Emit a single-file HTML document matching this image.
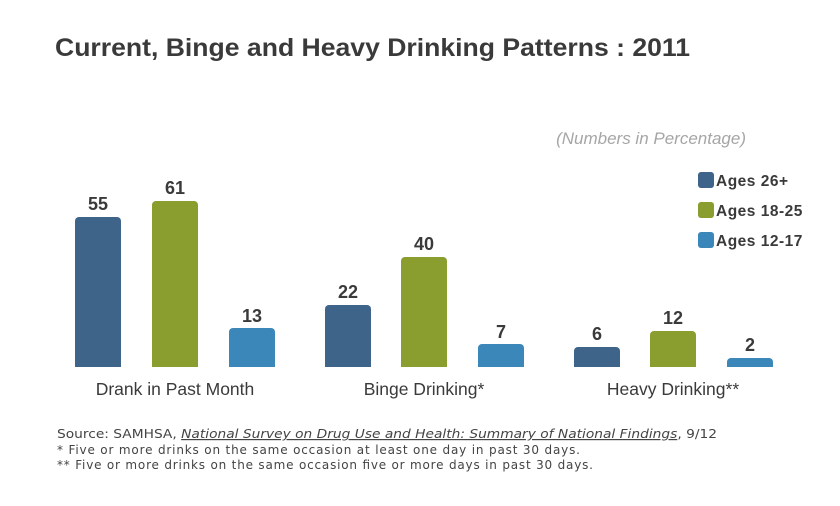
<!DOCTYPE html>
<html><head><meta charset="utf-8"><style>
body{margin:0;background:#fff}
svg{display:block}
</style></head><body>
<svg width="840" height="506" xmlns="http://www.w3.org/2000/svg" font-family="Liberation Sans, sans-serif">
<rect width="840" height="506" fill="#fff"/>
<text x="55" y="56" font-size="25" font-weight="bold" fill="#3a3a3a" textLength="635" lengthAdjust="spacingAndGlyphs">Current, Binge and Heavy Drinking Patterns : 2011</text>
<text x="746" y="144" font-size="17" font-style="italic" fill="#a6a6a6" text-anchor="end">(Numbers in Percentage)</text>
<g>
<rect x="698" y="172" width="16" height="16" rx="3" fill="#3e6589"/>
<rect x="698" y="202" width="16" height="16" rx="3" fill="#8a9d2f"/>
<rect x="698" y="232" width="16" height="16" rx="3" fill="#3b87b9"/>
<g font-size="15.5" font-weight="bold" fill="#3a3a3a" letter-spacing="0.5">
<text x="716" y="186">Ages 26+</text>
<text x="716" y="216">Ages 18-25</text>
<text x="716" y="246">Ages 12-17</text>
</g>
</g>
<g>
<path d="M75 367V221a4 4 0 0 1 4-4h38a4 4 0 0 1 4 4V367Z" fill="#3e6589"/>
<path d="M152 367V205a4 4 0 0 1 4-4h38a4 4 0 0 1 4 4V367Z" fill="#8a9d2f"/>
<path d="M229 367V332a4 4 0 0 1 4-4h38a4 4 0 0 1 4 4V367Z" fill="#3b87b9"/>
<path d="M325 367V309a4 4 0 0 1 4-4h38a4 4 0 0 1 4 4V367Z" fill="#3e6589"/>
<path d="M401 367V261a4 4 0 0 1 4-4h38a4 4 0 0 1 4 4V367Z" fill="#8a9d2f"/>
<path d="M478 367V348a4 4 0 0 1 4-4h38a4 4 0 0 1 4 4V367Z" fill="#3b87b9"/>
<path d="M574 367V351a4 4 0 0 1 4-4h38a4 4 0 0 1 4 4V367Z" fill="#3e6589"/>
<path d="M650 367V335a4 4 0 0 1 4-4h38a4 4 0 0 1 4 4V367Z" fill="#8a9d2f"/>
<path d="M727 367V362a4 4 0 0 1 4-4h38a4 4 0 0 1 4 4V367Z" fill="#3b87b9"/>
</g>
<g font-size="18" font-weight="bold" fill="#3a3a3a" text-anchor="middle">
<text x="98" y="210">55</text>
<text x="175" y="194">61</text>
<text x="252" y="322">13</text>
<text x="348" y="298">22</text>
<text x="424" y="250">40</text>
<text x="501" y="338">7</text>
<text x="597" y="340">6</text>
<text x="673" y="324">12</text>
<text x="750" y="351">2</text>
</g>
<g font-size="17.5" fill="#3a3a3a" text-anchor="middle">
<text x="175" y="395">Drank in Past Month</text>
<text x="424" y="395">Binge Drinking*</text>
<text x="673" y="395">Heavy Drinking**</text>
</g>
<g font-family="DejaVu Sans, sans-serif" font-size="12" fill="#444">
<text x="57" y="438" textLength="660" lengthAdjust="spacingAndGlyphs">Source: SAMHSA, <tspan font-style="italic" text-decoration="underline">National Survey on Drug Use and Health: Summary of National Findings</tspan>, 9/12</text>
<text x="57" y="454" textLength="523">* Five or more drinks on the same occasion at least one day in past 30 days.</text>
<text x="57" y="469" textLength="536">** Five or more drinks on the same occasion five or more days in past 30 days.</text>
</g>
</svg>
</body></html>
